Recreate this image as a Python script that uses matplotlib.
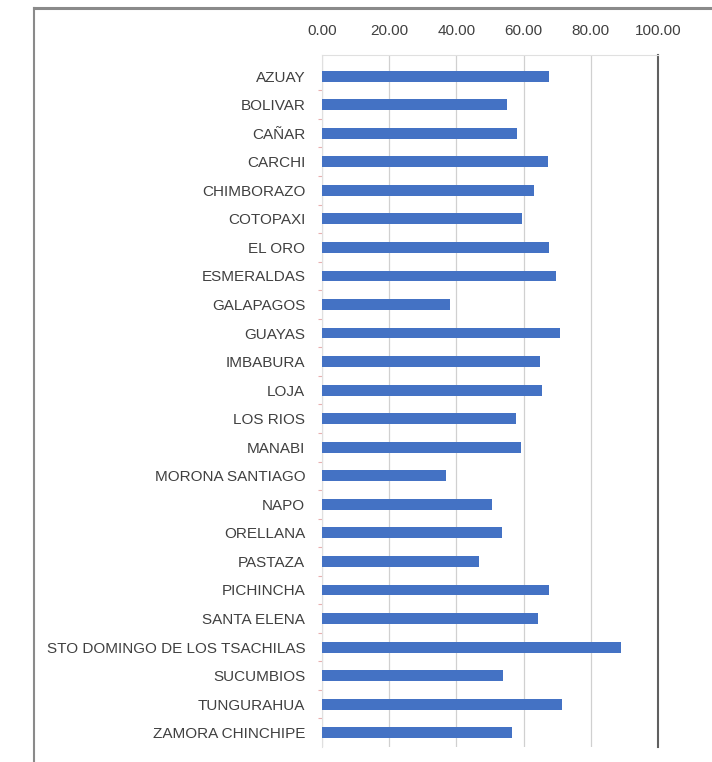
import matplotlib
matplotlib.use("Agg")
import matplotlib.pyplot as plt
from matplotlib.lines import Line2D
from matplotlib.ticker import FixedLocator, FormatStrFormatter

provinces = ["AZUAY", "BOLIVAR", "CAÑAR", "CARCHI", "CHIMBORAZO", "COTOPAXI",
             "EL ORO", "ESMERALDAS", "GALAPAGOS", "GUAYAS", "IMBABURA", "LOJA",
             "LOS RIOS", "MANABI", "MORONA SANTIAGO", "NAPO", "ORELLANA",
             "PASTAZA", "PICHINCHA", "SANTA ELENA",
             "STO DOMINGO DE LOS TSACHILAS", "SUCUMBIOS", "TUNGURAHUA",
             "ZAMORA CHINCHIPE"]
values = [67.7, 55.2, 58.0, 67.2, 63.2, 59.6, 67.7, 69.6, 38.0, 70.7,
          64.8, 65.4, 57.6, 59.2, 37.0, 50.7, 53.6, 46.7, 67.7, 64.4,
          89.1, 54.0, 71.4, 56.4]
xticks = [0, 20, 40, 60, 80, 100]

plt.rcParams['font.family'] = ['Liberation Sans', 'DejaVu Sans']

fig = plt.figure(figsize=(7.12, 7.62), dpi=100)
ax = fig.add_axes([322/712, 1-747/762, (658-322)/712, (747-55)/762])

pos = list(range(len(provinces)))
ax.barh(pos, values, height=0.38, color='#4472C4', zorder=3)

ax.set_xlim(0, 100)
ax.set_ylim(23.5, -0.74)
ax.xaxis.tick_top()
ax.xaxis.set_major_locator(FixedLocator(xticks))
ax.xaxis.set_major_formatter(FormatStrFormatter('%.2f'))
ax.tick_params(axis='x', length=0, pad=12, labelsize=11, labelcolor='#404040')
ax.set_yticks(pos)
ax.set_yticklabels(provinces)
ax.tick_params(axis='y', length=0, pad=12, labelsize=11, labelcolor='#404040')
ax.set_yticks([p + 0.5 for p in pos[:-1]], minor=True)
ax.tick_params(axis='y', which='minor', length=3, color='#e8b0b0', width=0.8)

ax.grid(axis='x', color='#d0d0d0', linewidth=0.9, zorder=0)
ax.spines['bottom'].set_visible(False)
ax.spines['top'].set_color('#e0e0e0')
ax.spines['left'].set_color('#e0e0e0')
ax.spines['right'].set_color('#606060')
ax.spines['right'].set_linewidth(1.5)

# outer chart border
fig.add_artist(Line2D([34/712, 1.0], [1-8/762, 1-8/762], transform=fig.transFigure,
                      color='#8a8a8a', linewidth=2.2))
fig.add_artist(Line2D([34/712, 34/712], [0.0, 1-8/762], transform=fig.transFigure,
                      color='#8a8a8a', linewidth=1.5))

fig.savefig('out.png', dpi=100)
